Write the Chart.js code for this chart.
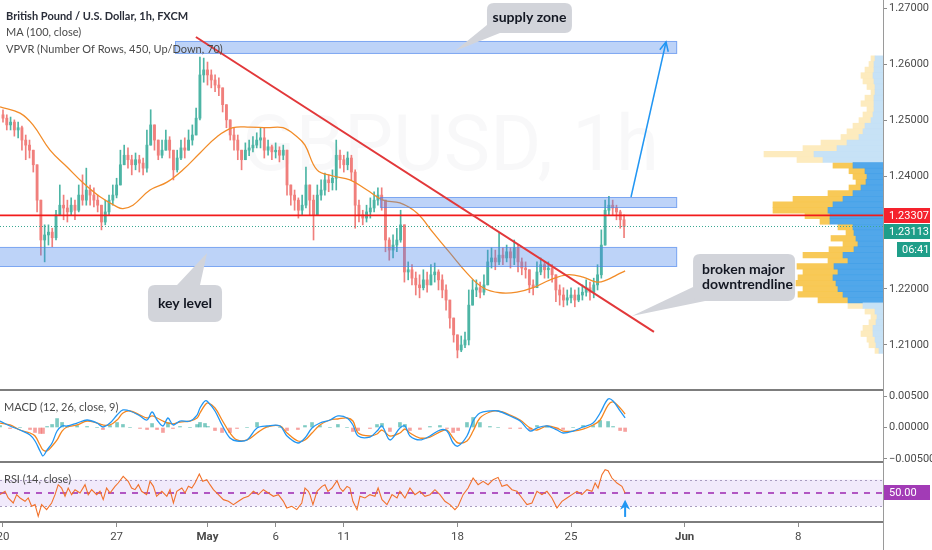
<!DOCTYPE html>
<html>
<head>
<meta charset="utf-8">
<script src="https://cdn.jsdelivr.net/npm/chart.js@4.4.1/dist/chart.umd.min.js"></script>
<style>
html,body{margin:0;padding:0;background:#fff;width:932px;height:550px;overflow:hidden;}
.abs{position:absolute;}
canvas{display:block;}
.sep{position:absolute;left:0;width:883px;height:2px;background:#7d7d7d;}
.vaxis{position:absolute;left:883px;top:0;width:1px;height:550px;background:#9a9a9a;}
</style>
</head>
<body>
<div class="abs" style="left:753px;top:0;width:130px;height:390px"><canvas id="vp" width="130" height="390"></canvas></div>
<div class="abs" style="left:0;top:0;width:932px;height:390px"><canvas id="main" width="932" height="390"></canvas></div>
<div class="abs" style="left:0;top:391px;width:932px;height:71px"><canvas id="macd" width="932" height="71"></canvas></div>
<div class="abs" style="left:0;top:462px;width:932px;height:88px"><canvas id="rsi" width="932" height="88"></canvas></div>
<div class="sep" style="top:389px"></div>
<div class="sep" style="top:461px"></div>
<div class="vaxis"></div>
<script>
// ---------------- DATA ----------------
// x axis: trading days since Mon 20 Apr (weekends skipped)
const tickDays   = [0, 5, 9, 12, 15, 20, 25, 30, 35];
const tickLabels = ['20', '27', 'May', '6', '11', '18', '25', 'Jun', '8'];
const boldTickLabels = ['May', 'Jun'];

// GBP/USD candles, 4-hour steps (6 per trading day) starting at day 0
const candleStartDay = 0;
const candlesPerDay = 6;
const firstOpen = 1.2510;
const closes = [
  1.2504,1.2492,1.2497,1.2483,1.2487,1.2465,1.2456,1.2447,1.2421,1.2358,
  1.2287,1.2296,1.2301,1.2291,1.2332,1.2349,1.2344,1.2337,1.2349,1.2340,
  1.2367,1.2358,1.2376,1.2367,1.2358,1.2349,1.2319,1.2337,1.2358,1.2367,
  1.2385,1.2421,1.2438,1.2430,1.2421,1.2430,1.2424,1.2415,1.2456,1.2492,
  1.2465,1.2438,1.2447,1.2465,1.2447,1.2412,1.2433,1.2451,1.2447,1.2465,
  1.2474,1.2504,1.2581,1.2590,1.2581,1.2572,1.2563,1.2558,1.2528,1.2501,
  1.2474,1.2465,1.2447,1.2430,1.2447,1.2451,1.2456,1.2465,1.2469,1.2447,
  1.2453,1.2444,1.2447,1.2438,1.2447,1.2385,1.2367,1.2358,1.2340,1.2349,
  1.2385,1.2358,1.2332,1.2367,1.2376,1.2394,1.2389,1.2397,1.2438,1.2430,
  1.2421,1.2433,1.2408,1.2349,1.2332,1.2326,1.2337,1.2344,1.2358,1.2367,
  1.2358,1.2287,1.2269,1.2278,1.2287,1.2314,1.2230,1.2234,1.2219,1.2207,
  1.2202,1.2216,1.2207,1.2225,1.2230,1.2216,1.2198,1.2180,1.2148,1.2118,
  1.2091,1.2100,1.2109,1.2171,1.2198,1.2202,1.2194,1.2207,1.2248,1.2255,
  1.2248,1.2260,1.2255,1.2266,1.2255,1.2273,1.2248,1.2237,1.2234,1.2207,
  1.2202,1.2230,1.2243,1.2234,1.2237,1.2225,1.2198,1.2189,1.2180,1.2184,
  1.2189,1.2180,1.2189,1.2194,1.2202,1.2194,1.2207,1.2225,1.2278,1.2340,
  1.2349,1.2344,1.2337,1.2323,1.2311
];
const highs = [
  1.2519,1.2510,1.2506,1.2501,1.2497,1.2490,1.2474,1.2465,1.2447,1.2415,
  1.2349,1.2314,1.2314,1.2308,1.2340,1.2385,1.2367,1.2358,1.2362,1.2358,
  1.2385,1.2403,1.2415,1.2385,1.2380,1.2367,1.2349,1.2358,1.2367,1.2385,
  1.2397,1.2447,1.2456,1.2451,1.2438,1.2442,1.2438,1.2433,1.2483,1.2519,
  1.2492,1.2465,1.2465,1.2483,1.2471,1.2447,1.2447,1.2465,1.2469,1.2483,
  1.2492,1.2522,1.2613,1.2611,1.2604,1.2590,1.2581,1.2576,1.2558,1.2528,
  1.2492,1.2487,1.2474,1.2447,1.2460,1.2465,1.2471,1.2478,1.2487,1.2487,
  1.2465,1.2456,1.2460,1.2453,1.2456,1.2438,1.2385,1.2376,1.2362,1.2367,
  1.2417,1.2376,1.2367,1.2385,1.2394,1.2406,1.2403,1.2412,1.2465,1.2447,
  1.2438,1.2444,1.2438,1.2412,1.2358,1.2340,1.2349,1.2362,1.2373,1.2380,
  1.2380,1.2349,1.2291,1.2296,1.2308,1.2340,1.2305,1.2248,1.2243,1.2230,
  1.2225,1.2234,1.2230,1.2243,1.2246,1.2234,1.2225,1.2207,1.2171,1.2141,
  1.2112,1.2116,1.2123,1.2198,1.2216,1.2216,1.2212,1.2225,1.2269,1.2273,
  1.2269,1.2300,1.2273,1.2278,1.2273,1.2287,1.2278,1.2255,1.2248,1.2234,
  1.2216,1.2248,1.2255,1.2248,1.2248,1.2243,1.2225,1.2207,1.2202,1.2198,
  1.2202,1.2198,1.2202,1.2207,1.2216,1.2212,1.2219,1.2243,1.2305,1.2358,
  1.2365,1.2358,1.2349,1.2340,1.2332
];
const lows = [
  1.2497,1.2483,1.2483,1.2472,1.2469,1.2447,1.2430,1.2433,1.2408,1.2337,
  1.2260,1.2248,1.2278,1.2275,1.2287,1.2332,1.2323,1.2319,1.2332,1.2323,
  1.2337,1.2349,1.2349,1.2349,1.2346,1.2337,1.2305,1.2314,1.2332,1.2349,
  1.2362,1.2394,1.2421,1.2415,1.2403,1.2412,1.2408,1.2403,1.2408,1.2465,
  1.2447,1.2430,1.2433,1.2447,1.2433,1.2394,1.2408,1.2430,1.2433,1.2447,
  1.2456,1.2474,1.2501,1.2568,1.2563,1.2558,1.2551,1.2544,1.2515,1.2487,
  1.2465,1.2447,1.2430,1.2412,1.2430,1.2437,1.2444,1.2451,1.2451,1.2433,
  1.2438,1.2430,1.2433,1.2426,1.2430,1.2367,1.2349,1.2340,1.2326,1.2332,
  1.2344,1.2332,1.2287,1.2349,1.2358,1.2367,1.2373,1.2376,1.2376,1.2415,
  1.2408,1.2412,1.2394,1.2308,1.2319,1.2314,1.2319,1.2326,1.2337,1.2349,
  1.2340,1.2266,1.2251,1.2255,1.2266,1.2283,1.2212,1.2216,1.2207,1.2189,
  1.2184,1.2198,1.2194,1.2207,1.2212,1.2198,1.2184,1.2162,1.2130,1.2105,
  1.2077,1.2088,1.2095,1.2100,1.2180,1.2186,1.2184,1.2189,1.2207,1.2237,
  1.2234,1.2243,1.2243,1.2248,1.2237,1.2243,1.2230,1.2225,1.2219,1.2193,
  1.2189,1.2207,1.2225,1.2219,1.2219,1.2212,1.2177,1.2171,1.2168,1.2171,
  1.2175,1.2168,1.2177,1.2180,1.2187,1.2180,1.2184,1.2198,1.2219,1.2287,
  1.2332,1.2332,1.2323,1.2308,1.2291
];

// MA (100, close)
const maDays = [-0.13,0.75,1.32,2.07,2.82,3.52,4.27,5.02,5.28,5.72,6.47,7.22,7.92,8.67,9.42,10.12,10.87,11.62,12.32,12.94,13.29,13.82,14.52,15.27,16.02,16.73,17.47,18.22,18.93,19.67,20.42,21.13,21.87,22.62,23.33,24.08,24.82,25.53,26.14,26.58,27.02,27.38];
const maValues = [1.2524,1.2513,1.2492,1.2447,1.2417,1.2389,1.2364,1.2346,1.2343,1.2349,1.2376,1.2390,1.2412,1.2442,1.2471,1.2487,1.2488,1.2487,1.2487,1.2471,1.2456,1.2412,1.2401,1.2394,1.2376,1.2358,1.2353,1.2335,1.2300,1.2264,1.2228,1.2202,1.2193,1.2194,1.2202,1.2216,1.2225,1.2221,1.2212,1.2216,1.2225,1.2232];

// MACD (12, 26, close, 9)
const macdDays = [
  -0.13,0.31,0.75,1.19,1.41,1.63,1.76,1.94,2.16,2.38,
  2.60,2.82,3.26,3.70,4.14,4.40,4.71,5.02,5.28,5.59,
  6.03,6.34,6.56,6.78,7.04,7.26,7.48,7.79,8.23,8.54,
  8.67,8.89,9.02,9.33,9.64,9.99,10.30,10.74,11.18,11.62,
  12.19,12.50,12.98,13.29,13.60,13.95,14.39,14.74,15.14,15.40,
  15.63,16.15,16.46,16.68,17.03,17.47,17.69,17.91,18.35,18.79,
  19.23,19.54,19.81,20.03,20.42,20.69,20.99,21.43,21.79,22.32,
  22.76,23.20,23.50,23.94,24.38,24.65,25.09,25.53,25.97,26.28,
  26.63,26.85,27.16,27.38
];
const macdLine = [
  0.00103,0.00024,-0.00040,-0.00119,-0.00214,-0.00373,-0.00452,-0.00357,-0.00246,-0.00056,
  0.00024,0.00024,0.00071,0.00119,0.00071,0.00008,0.00071,0.00198,0.00278,0.00262,
  0.00183,0.00119,0.00246,0.00119,0.00024,0.00151,0.00040,0.00103,0.00103,0.00198,
  0.00310,0.00421,0.00405,0.00262,0.00040,-0.00167,-0.00214,-0.00198,-0.00008,0.00024,
  0.00024,-0.00135,-0.00246,-0.00167,-0.00008,0.00071,0.00119,0.00183,0.00151,0.00040,
  -0.00135,-0.00151,-0.00056,0.00024,-0.00198,-0.00008,0.00024,-0.00135,-0.00198,-0.00135,
  -0.00040,-0.00056,-0.00246,-0.00294,-0.00135,0.00103,0.00230,0.00262,0.00262,0.00183,
  0.00103,-0.00056,-0.00008,0.00024,-0.00040,-0.00087,-0.00056,0.00008,0.00071,0.00230,
  0.00452,0.00421,0.00262,0.00151
];
const signalLine = [
  0.00071,0.00040,-0.00040,-0.00087,-0.00135,-0.00278,-0.00357,-0.00373,-0.00294,-0.00198,
  -0.00056,0.00008,0.00040,0.00103,0.00071,0.00040,0.00040,0.00119,0.00230,0.00262,
  0.00198,0.00151,0.00183,0.00151,0.00103,0.00071,0.00056,0.00087,0.00103,0.00151,
  0.00230,0.00357,0.00389,0.00310,0.00119,-0.00087,-0.00198,-0.00198,-0.00087,0.00008,
  0.00024,-0.00087,-0.00214,-0.00198,-0.00087,0.00040,0.00119,0.00135,0.00151,0.00103,
  -0.00087,-0.00135,-0.00103,-0.00040,-0.00135,-0.00087,-0.00024,-0.00087,-0.00167,-0.00151,
  -0.00071,-0.00040,-0.00167,-0.00246,-0.00214,-0.00056,0.00151,0.00246,0.00262,0.00198,
  0.00119,-0.00008,-0.00040,0.00024,-0.00008,-0.00056,-0.00056,-0.00024,0.00040,0.00119,
  0.00357,0.00405,0.00310,0.00214
];
const macdTicks = [0.005, 0, -0.005];

// RSI (14, close)
const rsiDays = [
  -0.13,0.09,0.23,0.45,0.60,0.75,0.97,1.11,1.26,1.41,
  1.55,1.70,1.92,2.14,2.29,2.43,2.58,2.73,2.87,3.02,
  3.17,3.39,3.61,3.75,3.90,4.12,4.27,4.41,4.56,4.71,
  4.93,5.07,5.29,5.51,5.66,5.81,5.96,6.10,6.32,6.47,
  6.62,6.76,6.99,7.21,7.35,7.50,7.65,7.87,8.01,8.16,
  8.31,8.45,8.64,8.79,8.97,9.11,9.26,9.48,9.70,9.92,
  10.14,10.36,10.58,10.80,11.02,11.24,11.46,11.68,11.90,12.12,
  12.34,12.49,12.71,12.93,13.15,13.29,13.44,
  13.51,13.64,13.82,14.04,14.17,14.30,14.48,14.70,14.83,14.96,
  15.14,15.27,15.40,15.58,15.71,15.93,16.15,16.37,16.51,16.68,
  16.90,17.12,17.34,17.47,17.69,17.91,18.13,18.35,18.57,18.79,
  19.01,19.23,19.45,19.67,19.89,20.03,20.25,20.47,20.69,20.91,
  21.13,21.35,21.57,21.79,21.96,22.18,22.40,22.62,22.84,23.06,
  23.28,23.50,23.72,23.94,24.16,24.38,24.60,24.82,25.04,25.26,
  25.48,25.70,25.92,26.06,26.19,26.36,26.50,26.63,26.80,27.02,
  27.24,27.38
];
const rsiValues = [
  47.5,52.5,42.5,35,47.5,42.5,37.5,42.5,30,32.5,
  15,32.5,25,35,47.5,62.5,57.5,45,57.5,47.5,
  55,50,62.5,47.5,55,47.5,52.5,40,57.5,50,
  60,65,75,67.5,57.5,55,62.5,52.5,47.5,67.5,
  60,45,52.5,45,55,35,52.5,57.5,50,60,
  57.5,65,78.5,67.5,70,62.5,55,47.5,40,37.5,
  32.5,37.5,42.5,45,52.5,47.5,55,50,45,47.5,
  37.5,27.5,30,25,35,57.5,52.5,
  47.5,32.5,52.5,60,62.5,52.5,57.5,68.5,57.5,52.5,
  60,57.5,37.5,25,45,42.5,47.5,45,57.5,40,
  32.5,47.5,42.5,52.5,42.5,57.5,47.5,52.5,45,47.5,
  55,47.5,37.5,32.5,25,30,47.5,57.5,72.5,62.5,
  67.5,62.5,70,73.5,60,62.5,55,52.5,42.5,32.5,
  35,52.5,47.5,52.5,42.5,27.5,37.5,42.5,47.5,52.5,
  47.5,55,52.5,65,57.5,77.5,85,83.5,72.5,65,
  60,50
];
const rsiBand = [30, 70];
const rsiMid = 50;

// VPVR rows: price, up volume (blue), down volume (yellow)
const vpPrices = [1.261,1.260,1.259,1.258,1.257,1.256,1.255,1.254,1.253,1.252,1.251,1.250,1.249,1.248,1.247,1.246,1.245,1.244,1.243,1.242,1.241,1.240,1.239,1.238,1.237,1.236,1.235,1.234,1.233,1.232,1.231,1.230,1.229,1.228,1.227,1.226,1.225,1.224,1.223,1.222,1.221,1.220,1.219,1.218,1.217,1.216,1.215,1.214,1.213,1.212,1.211,1.210,1.209];
const vpUp   = [8,9,9,10,9,8,8,9,9,9,10,12,18,20,24,36,46,69,60,30,18,16,17,22,30,40,50,55,53,53,30,29,27,25,29,40,35,49,45,50,47,45,40,35,20,8,6,7,10,10,8,7,4];
const vpDown = [4,5,9,12,11,8,4,9,13,7,10,12,12,16,18,26,34,50,26,20,16,14,10,12,25,50,60,55,25,10,15,8,25,15,25,40,20,37,35,35,40,35,45,30,15,10,6,7,10,12,8,7,4];
const valueArea = [1.2171, 1.2426];

// price axis
const priceTicks = [1.21, 1.22, 1.24, 1.25, 1.26, 1.27];
const redLevel = 1.23307;
const lastPrice = 1.23113;
const countdown = '06:41';

// drawings (day, price)
const zones = [
  [7.57, 29.67, 1.26184, 1.26415],
  [16.59, 29.67, 1.23440, 1.23636],
  [-0.3, 29.67, 1.22389, 1.22746]
];
const trendLine = [[8.49, 1.26486], [28.65, 1.21232]];
const targetArrow = [[27.64, 1.23636], [29.18, 1.26397]];
const callouts = [
  { lines: ['supply zone'], align: 'center', box: [21.30, 25.04, 1.27092, 1.26558], tail: [[21.30, 1.26700], [19.89, 1.26237], [21.87, 1.26558]] },
  { lines: ['key level'], align: 'center', box: [6.38, 9.64, 1.22069, 1.21410], tail: [[7.66, 1.22069], [8.98, 1.22639], [8.67, 1.22069]] },
  { lines: ['broken major', 'downtrendline'], align: 'left', box: [30.37, 34.86, 1.22621, 1.21784], tail: [[30.37, 1.22033], [27.68, 1.21517], [30.90, 1.21784]] }
];
const watermark = { text: 'GBPUSD, 1h', day: 19.7, price: 1.2447 };
const legendMain = ['British Pound / U.S. Dollar, 1h, FXCM', 'MA (100, close)', 'VPVR (Number Of Rows, 450, Up/Down, 70)'];
const legendMacd = 'MACD (12, 26, close, 9)';
const legendRsi = 'RSI (14, close)';
const rsiArrow = { day: 27.38, from: 14, to: 40 };

// ---------------- RANGES / STYLE ----------------
const X_MIN = -0.132, X_MAX = 38.73;
const P_MIN = 1.20198, P_MAX = 1.27145;
const M_MIN = -0.0054762, M_MAX = 0.0057937;
const R_MIN = 6.39, R_MAX = 96.6;
const AXIS_FAMILY = '"Liberation Sans Narrow", Roboto, sans-serif';
const AXIS_FONT = { family: AXIS_FAMILY, size: 11 };
const UP = '#4db5a5', DOWN = '#f07f7c';

Chart.defaults.font.family = AXIS_FAMILY;

function fitY(s) { s.width = 49; s.paddingTop = 0; s.paddingBottom = 0; }
function fitX(s) { s.height = 28; s.paddingLeft = 0; s.paddingRight = 0; }
const baseOpts = {
  responsive: false, animation: false, events: [],
  layout: { padding: 0, autoPadding: false },
  plugins: { legend: { display: false }, tooltip: { enabled: false } }
};
function yAxis(min, max, tickVals, fmt) {
  return {
    type: 'linear', position: 'right', min, max,
    afterFit: fitY,
    afterBuildTicks: s => { s.ticks = tickVals.map(v => ({ value: v })); },
    ticks: { display: tickVals.length > 0, autoSkip: false, callback: fmt, color: '#4a4a4a', font: AXIS_FONT, padding: 2 },
    grid: { drawOnChartArea: false, drawTicks: tickVals.length > 0, tickLength: 4, color: '#8c8c8c' },
    border: { display: false }
  };
}
const hiddenX = { type: 'linear', min: X_MIN, max: X_MAX, display: false, offset: false };

// ---------------- VPVR ----------------
const inVA = p => p >= valueArea[0] && p <= valueArea[1];
new Chart(document.getElementById('vp'), {
  type: 'bar',
  data: {
    datasets: [
      { data: vpPrices.map((p, i) => ({ y: p, x: vpUp[i] })),
        backgroundColor: c => (c.raw && inVA(c.raw.y)) ? 'rgba(66,160,232,0.92)' : 'rgba(196,224,246,0.95)',
        barPercentage: 1, categoryPercentage: 1, borderWidth: 0 },
      { data: vpPrices.map((p, i) => ({ y: p, x: vpDown[i] })),
        backgroundColor: c => (c.raw && inVA(c.raw.y)) ? 'rgba(248,198,78,0.95)' : 'rgba(253,234,186,0.95)',
        barPercentage: 1, categoryPercentage: 1, borderWidth: 0 }
    ]
  },
  options: Object.assign({}, baseOpts, {
    indexAxis: 'y',
    scales: {
      x: { type: 'linear', min: 0, max: 130, reverse: true, stacked: true, display: false },
      y: { type: 'linear', min: P_MIN, max: P_MAX, stacked: true, display: false, offset: false }
    }
  })
});

// ---------------- MAIN PRICE PANE ----------------
const candleDays = closes.map((c, i) => candleStartDay + i / candlesPerDay);
const opens = closes.map((c, i) => (i === 0 ? firstOpen : closes[i - 1]));
const candleColor = c => (c.dataIndex !== undefined && closes[c.dataIndex] >= opens[c.dataIndex]) ? UP : DOWN;

function roundRect(ctx, x, y, w, h, r) {
  ctx.beginPath();
  ctx.moveTo(x + r, y);
  ctx.lineTo(x + w - r, y); ctx.quadraticCurveTo(x + w, y, x + w, y + r);
  ctx.lineTo(x + w, y + h - r); ctx.quadraticCurveTo(x + w, y + h, x + w - r, y + h);
  ctx.lineTo(x + r, y + h); ctx.quadraticCurveTo(x, y + h, x, y + h - r);
  ctx.lineTo(x, y + r); ctx.quadraticCurveTo(x, y, x + r, y);
  ctx.closePath();
}
function axisLabel(ctx, x, yc, w, bg, text) {
  const h = 15;
  ctx.fillStyle = bg;
  ctx.fillRect(x, Math.round(yc - h / 2), w, h);
  ctx.fillStyle = '#ffffff';
  ctx.font = '11px ' + AXIS_FAMILY;
  ctx.textAlign = 'left'; ctx.textBaseline = 'middle';
  ctx.fillText(text, x + 5, Math.round(yc - h / 2) + 8);
}

const mainOverlay = {
  id: 'mainOverlay',
  beforeDatasetsDraw(chart) {
    const { ctx, scales: { x, y } } = chart;
    ctx.save();
    ctx.font = '78px Roboto, sans-serif';
    ctx.fillStyle = 'rgba(120,123,134,0.05)';
    ctx.textAlign = 'center'; ctx.textBaseline = 'middle';
    ctx.fillText(watermark.text, x.getPixelForValue(watermark.day), y.getPixelForValue(watermark.price));
    ctx.restore();
  },
  afterDatasetsDraw(chart) {
    const { ctx, chartArea: a, scales: { x, y } } = chart;
    const X = d => x.getPixelForValue(d), Y = p => y.getPixelForValue(p);
    ctx.save();
    ctx.beginPath(); ctx.rect(a.left, a.top, a.right - a.left, a.bottom - a.top); ctx.clip();
    // zones
    zones.forEach(z => {
      const x1 = X(z[0]), x2 = X(z[1]), y1 = Y(z[3]), y2 = Y(z[2]);
      ctx.fillStyle = 'rgba(72,132,236,0.36)';
      ctx.fillRect(x1, y1, x2 - x1, y2 - y1);
      ctx.strokeStyle = 'rgba(72,132,236,0.55)'; ctx.lineWidth = 1;
      ctx.strokeRect(x1 + 0.5, y1 + 0.5, x2 - x1 - 1, y2 - y1 - 1);
    });
    // last price dotted line
    ctx.strokeStyle = '#3aa893'; ctx.lineWidth = 1; ctx.setLineDash([1, 2]);
    ctx.beginPath(); ctx.moveTo(a.left, Math.round(Y(lastPrice)) + 0.5); ctx.lineTo(a.right, Math.round(Y(lastPrice)) + 0.5); ctx.stroke();
    ctx.setLineDash([]);
    // red horizontal level
    ctx.strokeStyle = '#f21b1b'; ctx.lineWidth = 1.8;
    ctx.beginPath(); ctx.moveTo(a.left, Y(redLevel)); ctx.lineTo(a.right, Y(redLevel)); ctx.stroke();
    // trendline
    ctx.strokeStyle = '#e2383a'; ctx.lineWidth = 2;
    ctx.beginPath(); ctx.moveTo(X(trendLine[0][0]), Y(trendLine[0][1])); ctx.lineTo(X(trendLine[1][0]), Y(trendLine[1][1])); ctx.stroke();
    // target arrow
    const ax1 = X(targetArrow[0][0]), ay1 = Y(targetArrow[0][1]), ax2 = X(targetArrow[1][0]), ay2 = Y(targetArrow[1][1]);
    ctx.strokeStyle = '#2196f3'; ctx.lineWidth = 1.5;
    ctx.beginPath(); ctx.moveTo(ax1, ay1); ctx.lineTo(ax2, ay2); ctx.stroke();
    const ang = Math.atan2(ay2 - ay1, ax2 - ax1);
    ctx.beginPath();
    ctx.moveTo(ax2 - 10 * Math.cos(ang - 0.45), ay2 - 10 * Math.sin(ang - 0.45));
    ctx.lineTo(ax2, ay2);
    ctx.lineTo(ax2 - 10 * Math.cos(ang + 0.45), ay2 - 10 * Math.sin(ang + 0.45));
    ctx.stroke();
    // callouts
    callouts.forEach(c => {
      const x1 = X(c.box[0]), x2 = X(c.box[1]), y1 = Y(c.box[2]), y2 = Y(c.box[3]);
      ctx.fillStyle = '#d2d4da';
      ctx.beginPath();
      ctx.moveTo(X(c.tail[0][0]), Y(c.tail[0][1]));
      ctx.lineTo(X(c.tail[1][0]), Y(c.tail[1][1]));
      ctx.lineTo(X(c.tail[2][0]), Y(c.tail[2][1]));
      ctx.closePath(); ctx.fill();
      roundRect(ctx, x1, y1, x2 - x1, y2 - y1, 7); ctx.fill();
      ctx.fillStyle = '#131722';
      ctx.font = 'bold 14px Lato, sans-serif';
      ctx.textBaseline = 'middle';
      const cy = (y1 + y2) / 2, lh = 15;
      c.lines.forEach((t, i) => {
        const ty = cy + (i - (c.lines.length - 1) / 2) * lh;
        if (c.align === 'center') { ctx.textAlign = 'center'; ctx.fillText(t, (x1 + x2) / 2, ty); }
        else { ctx.textAlign = 'left'; ctx.fillText(t, x1 + 9, ty); }
      });
    });
    ctx.restore();
    // legend
    ctx.save();
    ctx.textAlign = 'left'; ctx.textBaseline = 'middle';
    legendMain.forEach((t, i) => {
      ctx.font = (i === 0 ? 'bold 11px ' : '11px ') + 'Lato, sans-serif';
      ctx.fillStyle = i === 0 ? '#2a2e39' : '#4a4a4a';
      ctx.fillText(t, 6, 16 + i * 16.5);
    });
    ctx.restore();
  },
  afterDraw(chart) {
    const { ctx, chartArea: a, scales: { y } } = chart;
    ctx.save();
    const ry = y.getPixelForValue(redLevel);
    const gy = Math.max(y.getPixelForValue(lastPrice), ry + 16);
    axisLabel(ctx, a.right + 1, ry, 46, '#f5222d', redLevel.toFixed(5));
    axisLabel(ctx, a.right + 1, gy, 46, '#1f9e89', lastPrice.toFixed(5));
    axisLabel(ctx, a.right + 14, gy + 18, 33, '#1f9e89', countdown);
    ctx.restore();
  }
};

new Chart(document.getElementById('main'), {
  type: 'bar',
  data: {
    datasets: [
      { type: 'line', data: maDays.map((d, i) => ({ x: d, y: maValues[i] })), borderColor: '#f28c28', borderWidth: 1.3, pointRadius: 0, tension: 0.4, order: 0 },
      { type: 'bar', data: closes.map((c, i) => ({ x: candleDays[i], y: [opens[i], c] })), backgroundColor: candleColor, barThickness: 2.2, grouped: false, minBarLength: 1, order: 1 },
      { type: 'bar', data: closes.map((c, i) => ({ x: candleDays[i], y: [Math.min(lows[i], opens[i], c), Math.max(highs[i], opens[i], c)] })), backgroundColor: candleColor, barThickness: 1, grouped: false, order: 2 }
    ]
  },
  options: Object.assign({}, baseOpts, {
    scales: {
      x: hiddenX,
      y: yAxis(P_MIN, P_MAX, priceTicks, v => Number(v).toFixed(5))
    }
  }),
  plugins: [mainOverlay]
});

// ---------------- MACD PANE ----------------
const macdOverlay = {
  id: 'macdOverlay',
  afterDraw(chart) {
    const ctx = chart.ctx;
    ctx.save();
    ctx.font = '11px Lato, sans-serif'; ctx.fillStyle = '#4a4a4a';
    ctx.textAlign = 'left'; ctx.textBaseline = 'middle';
    ctx.fillText(legendMacd, 4, 16);
    ctx.restore();
  }
};
new Chart(document.getElementById('macd'), {
  type: 'bar',
  data: {
    datasets: [
      { type: 'line', data: macdDays.map((d, i) => ({ x: d, y: macdLine[i] })), borderColor: '#2196f3', borderWidth: 1.3, pointRadius: 0, tension: 0.35, order: 0 },
      { type: 'line', data: macdDays.map((d, i) => ({ x: d, y: signalLine[i] })), borderColor: '#f5861f', borderWidth: 1.3, pointRadius: 0, tension: 0.35, order: 1 },
      { type: 'bar', data: macdDays.map((d, i) => ({ x: d, y: macdLine[i] - signalLine[i] })),
        backgroundColor: c => (c.raw && c.raw.y >= 0) ? 'rgba(38,166,154,0.6)' : 'rgba(239,83,80,0.55)', barThickness: 3, grouped: false, order: 2 }
    ]
  },
  options: Object.assign({}, baseOpts, {
    scales: {
      x: hiddenX,
      y: yAxis(M_MIN, M_MAX, macdTicks, v => (v < 0 ? '\u2212' : '') + Math.abs(v).toFixed(5))
    }
  }),
  plugins: [macdOverlay]
});

// ---------------- RSI PANE ----------------
const rsiOverlay = {
  id: 'rsiOverlay',
  beforeDatasetsDraw(chart) {
    const { ctx, chartArea: a, scales: { y } } = chart;
    const yt = y.getPixelForValue(rsiBand[1]), yb = y.getPixelForValue(rsiBand[0]), ym = y.getPixelForValue(rsiMid);
    ctx.save();
    ctx.fillStyle = 'rgba(128,60,220,0.11)';
    ctx.fillRect(a.left, yt, a.right - a.left, yb - yt);
    ctx.strokeStyle = '#a89cc0'; ctx.lineWidth = 1; ctx.setLineDash([2, 3]);
    [yt, yb].forEach(v => { ctx.beginPath(); ctx.moveTo(a.left, Math.round(v) + 0.5); ctx.lineTo(a.right, Math.round(v) + 0.5); ctx.stroke(); });
    ctx.strokeStyle = '#9c27b0'; ctx.lineWidth = 1.5; ctx.setLineDash([6, 6]);
    ctx.beginPath(); ctx.moveTo(a.left, ym); ctx.lineTo(a.right, ym); ctx.stroke();
    ctx.restore();
  },
  afterDraw(chart) {
    const { ctx, chartArea: a, scales: { x, y } } = chart;
    ctx.save();
    ctx.font = '11px Lato, sans-serif'; ctx.fillStyle = '#4a4a4a';
    ctx.textAlign = 'left'; ctx.textBaseline = 'middle';
    ctx.fillText(legendRsi, 4, 17);
    axisLabel(ctx, a.right + 1, y.getPixelForValue(rsiMid), 46, '#a23bb6', rsiMid.toFixed(2));
    // blue arrow
    const ax = x.getPixelForValue(rsiArrow.day), yb = y.getPixelForValue(rsiArrow.from), yt = y.getPixelForValue(rsiArrow.to);
    ctx.strokeStyle = '#2196f3'; ctx.fillStyle = '#2196f3'; ctx.lineWidth = 2;
    ctx.beginPath(); ctx.moveTo(ax, yb); ctx.lineTo(ax, yt + 5); ctx.stroke();
    ctx.beginPath(); ctx.moveTo(ax, yt); ctx.lineTo(ax - 5, yt + 10); ctx.lineTo(ax, yt + 7); ctx.lineTo(ax + 5, yt + 10); ctx.closePath(); ctx.fill();
    ctx.restore();
  }
};
new Chart(document.getElementById('rsi'), {
  type: 'line',
  data: {
    datasets: [
      { data: rsiDays.map((d, i) => ({ x: d, y: rsiValues[i] })), borderColor: '#f2712a', borderWidth: 1.1, pointRadius: 0, tension: 0 }
    ]
  },
  options: Object.assign({}, baseOpts, {
    scales: {
      x: {
        type: 'linear', min: X_MIN, max: X_MAX, position: 'bottom', offset: false,
        afterFit: fitX,
        afterBuildTicks: s => { s.ticks = tickDays.map(v => ({ value: v })); },
        ticks: {
          autoSkip: false, maxRotation: 0, padding: 3, color: '#4a4a4a',
          callback: (v, i) => tickLabels[i],
          font: c => ({ family: AXIS_FAMILY, size: 11.5, weight: (c.tick && boldTickLabels.includes(tickLabels[c.index])) ? 'bold' : 'normal' })
        },
        grid: { drawOnChartArea: false, drawTicks: true, tickLength: 5, color: '#8c8c8c' },
        border: { display: true, color: '#7d7d7d', width: 2 }
      },
      y: yAxis(R_MIN, R_MAX, [], v => '')
    }
  }),
  plugins: [rsiOverlay]
});
</script>
</body>
</html>
